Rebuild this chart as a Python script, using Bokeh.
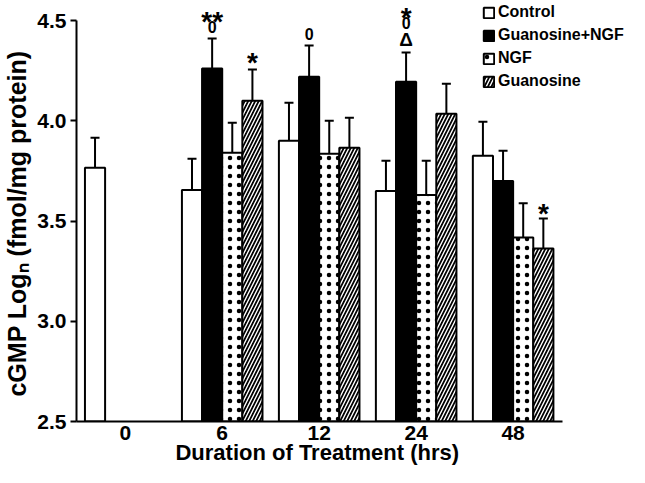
from bokeh.plotting import figure
from bokeh.models import (ColumnDataSource, Whisker, TeeHead, Legend, LegendItem,
                          FixedTicker, Range1d, PrintfTickFormatter)
from bokeh.core.properties import value, field
from bokeh.embed import file_html
from bokeh.resources import INLINE

# ---------------- data ----------------
hours = ["0", "6", "12", "24", "48"]
series_names = ["Control", "Guanosine+NGF", "NGF", "Guanosine"]
control = [3.765, 3.655, 3.90, 3.65, 3.825]
guanosine_ngf = [None, 4.26, 4.22, 4.195, 3.70]
ngf = [None, 3.84, 3.835, 3.63, 3.418]
guanosine = [None, 4.10, 3.865, 4.035, 3.363]
control_err = [0.15, 0.155, 0.19, 0.15, 0.17]
guanosine_ngf_err = [None, 0.15, 0.155, 0.145, 0.15]
ngf_err = [None, 0.15, 0.165, 0.17, 0.17]
guanosine_err = [None, 0.155, 0.15, 0.15, 0.15]
y_ticks = [2.5, 3.0, 3.5, 4.0, 4.5]
x_title = "Duration of Treatment (hrs)"
y_title = "cGMP Log\u2099 (fmol/mg protein)"

# significance marks: (time index, series index, mark)
ann_hour = [1, 1, 1, 2, 3, 3, 3, 4]
ann_series = [1, 1, 3, 1, 1, 1, 1, 3]
ann_text = ["0", "**", "*", "0", "\u0394", "0", "*", "*"]

# ---------------- layout ----------------
W, H = 629, 467
LEFT, BOTTOM = 73, 46
PX_X = 97.5          # px per time group
PX_Y = 200.5         # px per y unit
frame_w = W - LEFT
frame_h = H - BOTTOM
x_start = -49 / PX_X
x_end = x_start + frame_w / PX_X
y_start = 2.5
y_end = y_start + frame_h / PX_Y
bar_w = 20.25 / PX_X
FONT = "Liberation Sans"
# invisible padding to centre the titles on the drawn axis extent
X_PAD = "\u2003\u2003\u2003\u2005"
Y_PAD = "\u2003"

ann_offset_px = [11.5, 24, 14, 11.5, 13.5, 29.5, 42, 11]
mark_size = {"0": "16px", "**": "28px", "*": "28px", "\u0394": "19px"}
mark_shift = {"0": 0, "**": 6.5, "*": 6.5, "\u0394": 0}

p = figure(width=W, height=H, output_backend="svg", toolbar_location=None,
           x_range=Range1d(x_start, x_end), y_range=Range1d(y_start, y_end),
           min_border_left=LEFT, min_border_right=0, min_border_top=0,
           min_border_bottom=BOTTOM)
p.outline_line_color = None
p.xgrid.visible = False
p.ygrid.visible = False
p.background_fill_color = "white"
p.border_fill_color = "white"

values = [control, guanosine_ngf, ngf, guanosine]
errs = [control_err, guanosine_ngf_err, ngf_err, guanosine_err]
styles = [
    dict(fill_color="white"),
    dict(fill_color="black"),
    dict(fill_color="white", hatch_pattern="dot", hatch_color="black",
         hatch_scale=9, hatch_weight=2.5),
    dict(fill_color="black", hatch_pattern="right_diagonal_line",
         hatch_color="white", hatch_scale=7, hatch_weight=1.4),
]

renderers = []
wx, wup, wlo = [], [], []
tops = {}
for s, (vals, ers, st) in enumerate(zip(values, errs, styles)):
    xs, tp = [], []
    for g, (v, e) in enumerate(zip(vals, ers)):
        if v is None:
            continue
        x = g + (s - 1.5) * bar_w
        xs.append(x)
        tp.append(v)
        wx.append(x)
        wup.append(v + e)
        wlo.append(v - e)
        tops[(g, s)] = (x, v + e)
    src = ColumnDataSource(dict(x=xs, top=tp))
    r = p.vbar(x="x", top="top", bottom=2.5, width=bar_w, source=src,
               line_color="black", line_width=2, **st)
    renderers.append(r)

wsrc = ColumnDataSource(dict(base=wx, upper=wup, lower=wlo))
whisk = Whisker(base="base", upper="upper", lower="lower", source=wsrc,
                line_color="black", line_width=2,
                upper_head=TeeHead(size=9, line_width=2, line_color="black"),
                lower_head=TeeHead(size=9, line_width=2, line_color="black"))
p.add_layout(whisk)

ax, ay, at, asz = [], [], [], []
for g, s, t, off in zip(ann_hour, ann_series, ann_text, ann_offset_px):
    x, top = tops[(g, s)]
    ax.append(x)
    ay.append(top + (off - mark_shift[t]) / PX_Y)
    at.append(t)
    asz.append(mark_size[t])
asrc = ColumnDataSource(dict(x=ax, y=ay, text=at, size=asz))
p.text(x="x", y="y", text="text", source=asrc, text_font=value(FONT),
       text_font_style="bold", text_font_size=field("size"),
       text_align="center", text_baseline="middle", text_color="black")

# axes
xa = p.xaxis[0]
xa.ticker = FixedTicker(ticks=list(range(len(hours))))
xa.major_label_overrides = {i: h for i, h in enumerate(hours)}
xa.minor_tick_line_color = None
xa.major_tick_line_color = None
xa.major_tick_in = 0
xa.major_tick_out = 0
xa.axis_line_width = 2
xa.bounds = (x_start, 4.513)
xa.major_label_standoff = 4
xa.major_label_text_font = FONT
xa.major_label_text_font_style = "bold"
xa.major_label_text_font_size = "21px"
xa.major_label_text_color = "black"
xa.axis_label = x_title + X_PAD
xa.axis_label_text_font = FONT
xa.axis_label_text_font_style = "bold"
xa.axis_label_text_font_size = "22px"
xa.axis_label_text_color = "black"
xa.axis_label_standoff = -3

ya = p.yaxis[0]
ya.ticker = FixedTicker(ticks=y_ticks)
ya.formatter = PrintfTickFormatter(format="%.1f")
ya.minor_tick_line_color = None
ya.major_tick_in = 0
ya.major_tick_out = 6
ya.major_tick_line_width = 2
ya.axis_line_width = 2
ya.bounds = (2.5, 4.5)
ya.major_label_standoff = 4
ya.major_label_text_font = FONT
ya.major_label_text_font_style = "bold"
ya.major_label_text_font_size = "21px"
ya.major_label_text_color = "black"
ya.axis_label = y_title + Y_PAD
ya.axis_label_text_font = FONT
ya.axis_label_text_font_style = "bold"
ya.axis_label_text_font_size = "25px"
ya.axis_label_text_color = "black"
ya.axis_label_standoff = 3

legend = Legend(items=[LegendItem(label=n, renderers=[r])
                       for n, r in zip(series_names, renderers)],
                location=(406, 330), orientation="vertical",
                glyph_width=13, glyph_height=13, label_standoff=3,
                spacing=3, padding=0, margin=0, label_height=20,
                border_line_color=None, background_fill_alpha=0,
                label_text_font=FONT, label_text_font_style="bold",
                label_text_font_size="16px", label_text_color="black")
p.add_layout(legend)

open("out.html", "w").write(file_html(p, INLINE))
